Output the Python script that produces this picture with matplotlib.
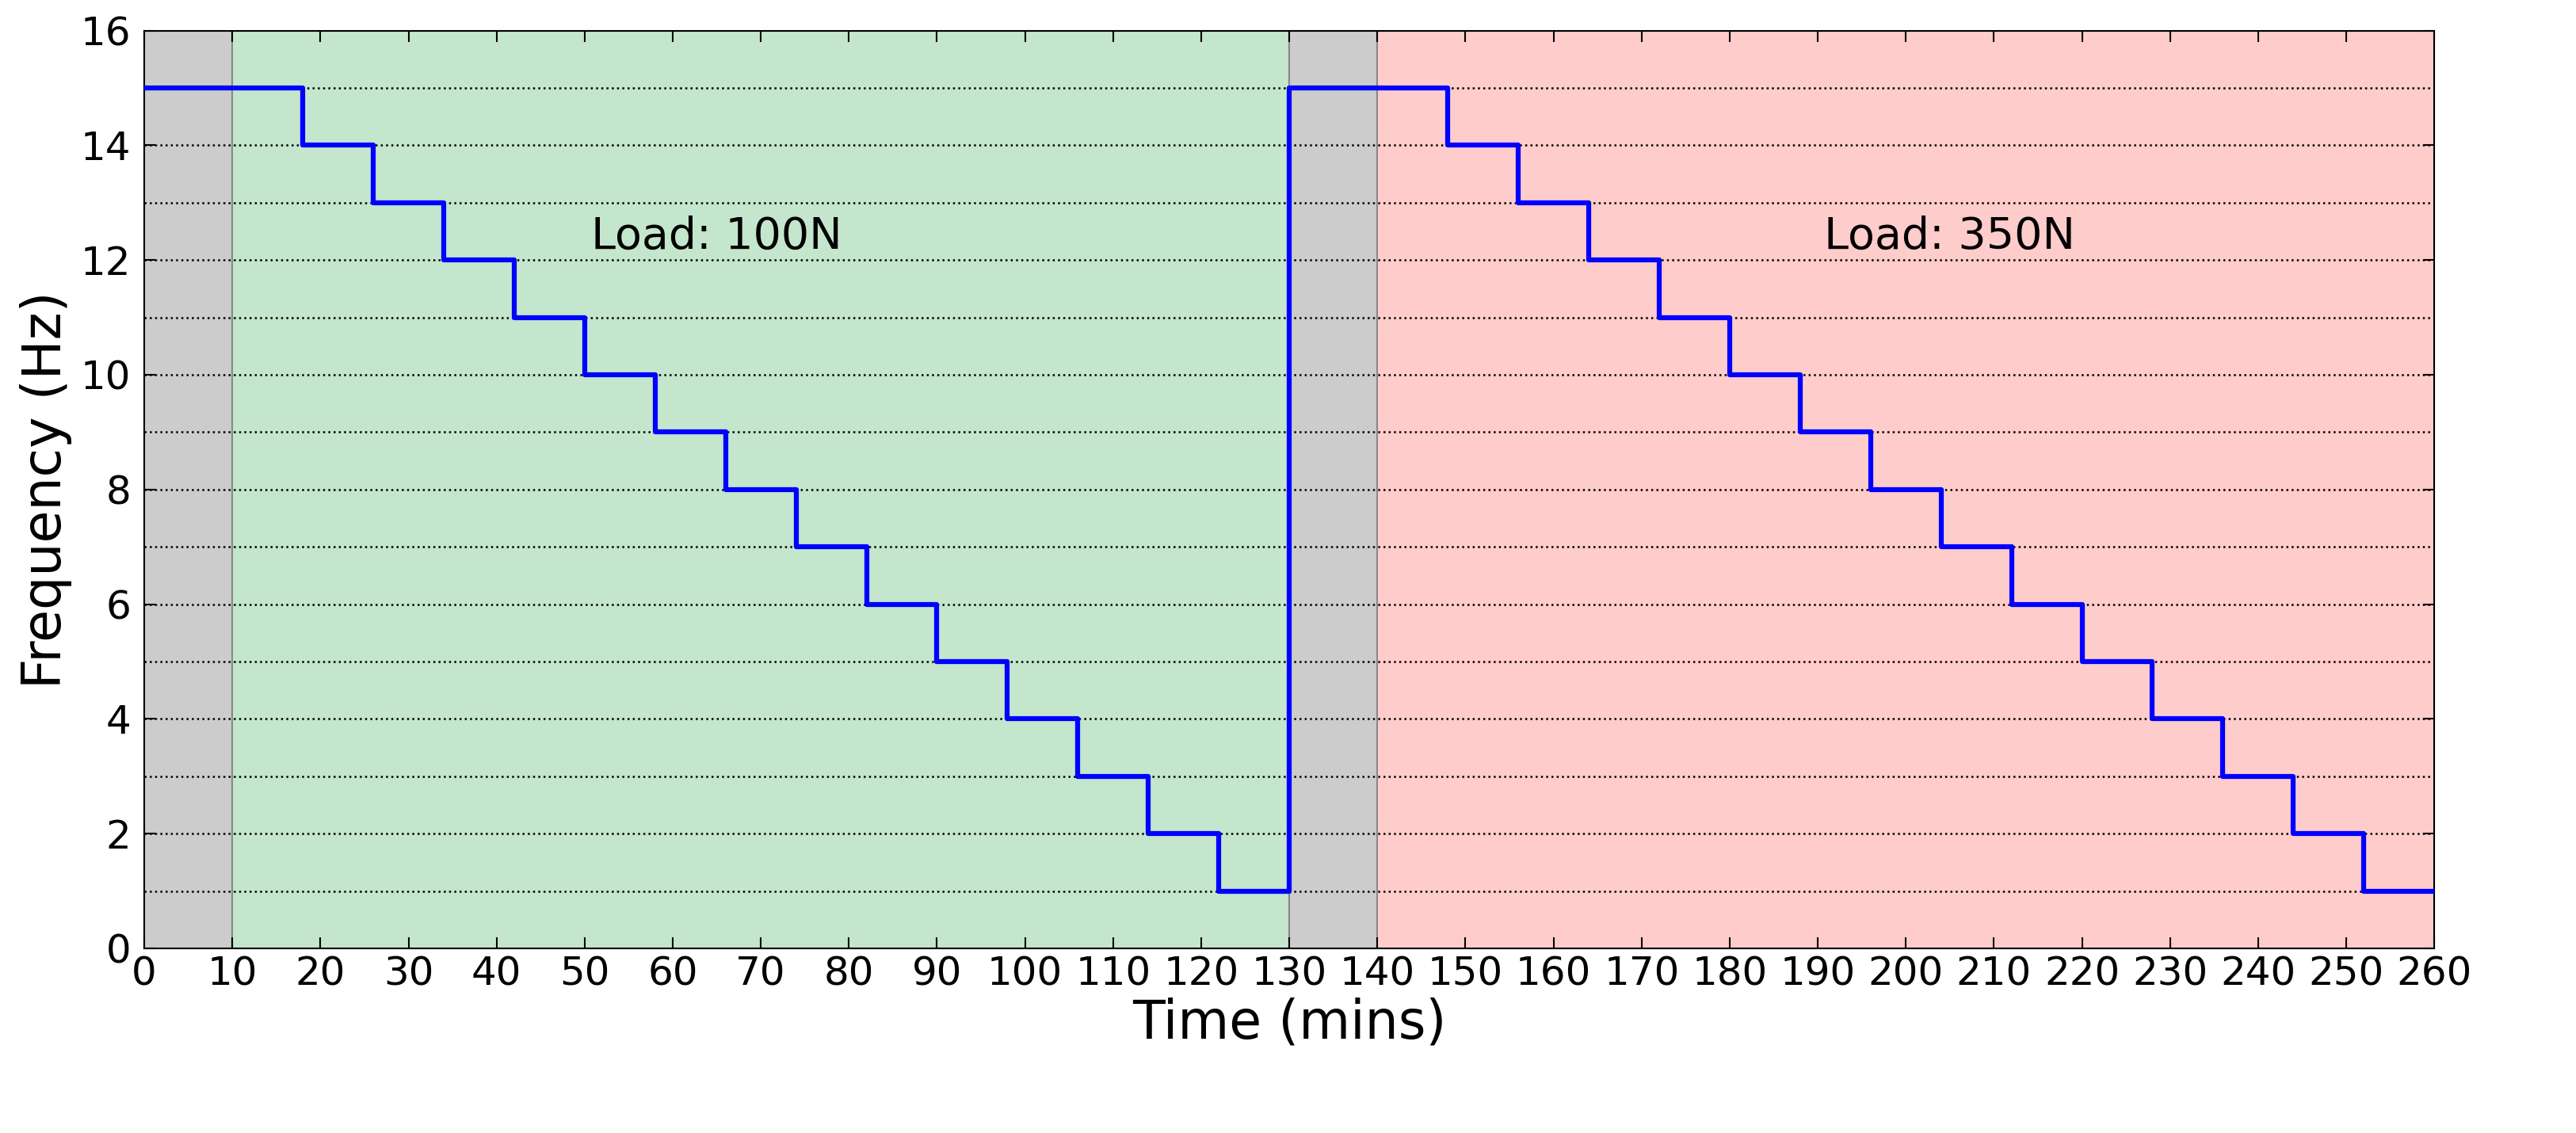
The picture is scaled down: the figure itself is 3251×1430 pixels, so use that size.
import matplotlib
matplotlib.use('Agg')
from matplotlib import pyplot as plt

# step edges (mins) and frequency held from each edge
times = [0, 18, 26, 34, 42, 50, 58, 66, 74, 82, 90, 98, 106, 114, 122,
         130, 148, 156, 164, 172, 180, 188, 196, 204, 212, 220, 228, 236, 244, 252, 260]
freqs = [15, 14, 13, 12, 11, 10, 9, 8, 7, 6, 5, 4, 3, 2, 1,
         15, 14, 13, 12, 11, 10, 9, 8, 7, 6, 5, 4, 3, 2, 1, 1]

# shaded phases: (start, end, colour)
phases = [(0, 10, '#cccccc'), (10, 130, '#c4e6cc'),
          (130, 140, '#cccccc'), (140, 260, '#ffcccc')]
labels = [(65, 12.4, 'Load: 100N'), (205, 12.4, 'Load: 350N')]

fig = plt.figure(figsize=(32.51, 14.30), dpi=100)
ax = fig.add_axes([0.056, 0.163, 0.889, 0.81])

for x0, x1, c in phases:
    ax.axvspan(x0, x1, color=c, zorder=0, lw=1.5, ec='#888888')
for y in range(1, 16):
    ax.axhline(y, color='black', ls=':', lw=1.8, zorder=1)

ax.step(times, freqs, where='post', color='blue', lw=4.5, zorder=3)

for x, y, t in labels:
    ax.text(x, y, t, fontsize=40, ha='center', va='center')

ax.set_xlim(0, 260)
ax.set_ylim(0, 16)
ax.set_xticks(range(0, 261, 10))
ax.set_yticks(range(0, 17, 2))
ax.tick_params(labelsize=36, length=10, width=1.5, direction='in', top=True, right=True)
ax.tick_params(axis='x', pad=6)
ax.tick_params(axis='y', pad=12)
for s in ax.spines.values():
    s.set_linewidth(1.5)
ax.set_xlabel('Time (mins)', fontsize=48, labelpad=4)
ax.set_ylabel('Frequency (Hz)', fontsize=48, labelpad=8)

plt.savefig('out.png')
